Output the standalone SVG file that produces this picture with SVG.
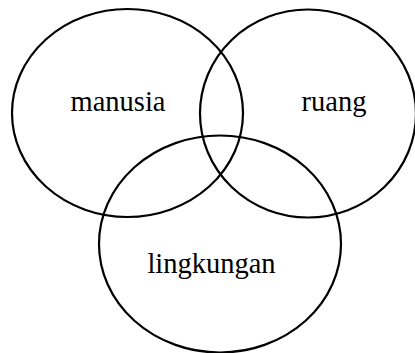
<svg xmlns="http://www.w3.org/2000/svg" width="415" height="353" viewBox="0 0 415 353">
<style>
.c{fill:none;stroke:#000;stroke-width:2.2}
.t{font-family:"Liberation Serif","Times New Roman",serif;font-size:28.5px;fill:#000;text-anchor:middle}
</style>
<rect width="415" height="353" fill="#fff"/>
<g id="manusia"><ellipse class="c" cx="127.5" cy="113" rx="115.5" ry="104"/><text class="t" x="118" y="110.5">manusia</text></g>
<g id="ruang"><ellipse class="c" cx="308" cy="113.5" rx="108" ry="104"/><text class="t" x="334" y="110.5">ruang</text></g>
<g id="lingkungan"><ellipse class="c" cx="220" cy="244" rx="121" ry="108.5"/><text class="t" x="211.5" y="273">lingkungan</text></g>
<g id="connectors"></g>
</svg>
